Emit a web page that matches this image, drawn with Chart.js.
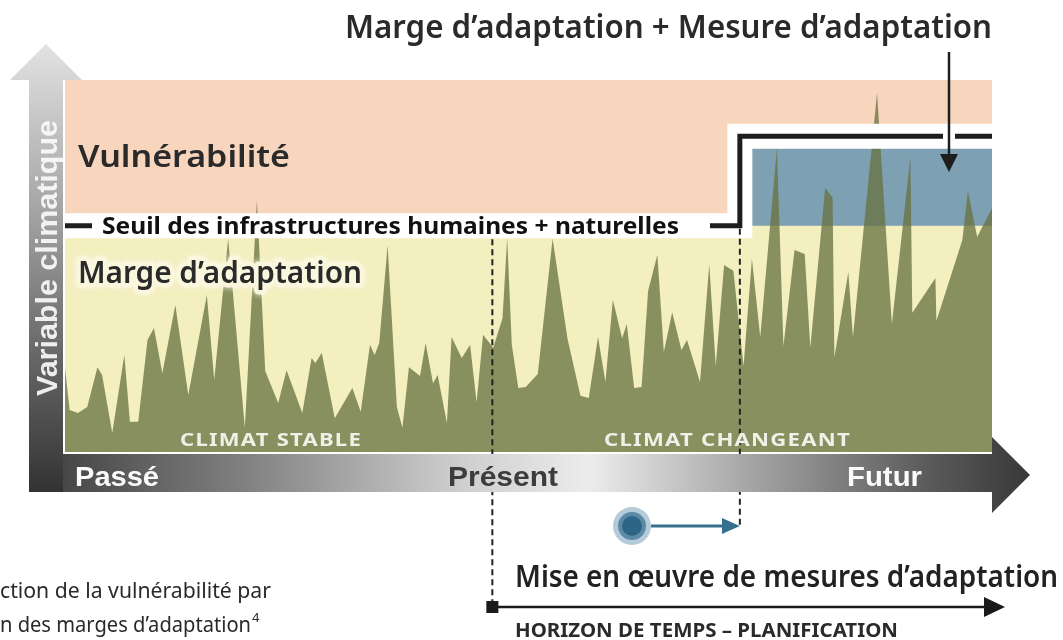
<!DOCTYPE html>
<html>
<head>
<meta charset="utf-8">
<script src="https://cdn.jsdelivr.net/npm/chart.js@4.4.0/dist/chart.umd.min.js"></script>
<style>
  html, body { margin: 0; padding: 0; background: #fff; }
  #wrap { width: 1063px; height: 640px; }
</style>
</head>
<body>
<div id="wrap"><canvas id="chart" width="1063" height="640"></canvas></div>
<script>
// temps : 0 = passé, 100 = futur ; variable climatique : 0 - 100
const tempsX = [0, 0.5, 1.4, 2.4, 3.5, 4.0, 5.1, 6.4, 7.0, 7.9, 8.9, 9.6, 10.5, 11.9, 13.3, 15.3, 16.1, 17.6, 19.4, 20.7,
  21.6, 23.0, 23.9, 25.6, 26.6, 27.0, 27.7, 29.1, 31.0, 31.9, 32.9, 33.4, 33.9, 34.8, 35.8, 36.4, 37.1, 38.3, 38.9, 39.7,
  40.2, 41.2, 41.7, 42.8, 43.7, 44.4, 45.1, 46.2, 47.2, 47.7, 48.2, 48.9, 49.7, 51.0, 52.6, 54.2, 55.6, 56.5, 57.5, 58.3,
  59.1, 60.1, 60.6, 61.4, 62.2, 62.9, 63.9, 64.6, 65.5, 66.5, 67.1, 68.5, 69.5, 70.2, 71.1, 72.1, 73.2, 74.1, 75.0, 76.8,
  77.5, 78.7, 79.8, 80.4, 82.0, 82.8, 83.0, 84.5, 85.0, 87.6, 89.2, 91.2, 91.4, 93.9, 94.0, 96.8, 97.4, 98.4, 100];
const variableY = [22.6, 11.3, 10.5, 12.1, 22.8, 20.7, 5.1, 26.1, 8.1, 8.1, 30.1, 33.3, 21.2, 39.5, 15.3, 42.2, 19.4, 57.3, 6.5, 67.7,
  21.8, 13.2, 22.0, 10.5, 25.3, 23.9, 26.6, 9.1, 17.2, 10.8, 28.8, 26.1, 29.3, 55.6, 12.1, 6.5, 22.8, 20.4, 29.3, 18.5,
  20.7, 7.8, 30.9, 25.3, 28.8, 13.4, 31.5, 28.0, 36.0, 57.5, 28.8, 17.2, 17.5, 21.0, 57.3, 30.6, 15.1, 14.5, 30.9, 18.8,
  40.9, 30.6, 34.4, 17.2, 17.5, 43.3, 53.0, 26.9, 37.6, 27.4, 30.1, 18.8, 50.5, 23.1, 50.3, 48.7, 23.1, 51.9, 30.9, 81.7,
  28.5, 54.3, 53.2, 28.0, 71.0, 68.5, 25.5, 48.4, 30.9, 96.5, 34.4, 79.3, 37.4, 46.8, 35.2, 57.0, 70.2, 57.8, 65.6];

// seuil des infrastructures (avant / après la mesure d'adaptation)
const seuilX = [0, 72.8, 72.8, 100];
const seuilY = [60.8, 60.8, 84.9, 84.9];
// zone de la mesure d'adaptation
const mesureX = [74.1, 100];
const mesureHaut = 81.7;
const mesureBas = 60.8;
const tPresent = 46.1;
const tMesure = 72.8;

function pts(xs, ys) {
  return xs.map((x, i) => ({ x: x, y: Array.isArray(ys) ? ys[i] : ys }));
}

// texte ajusté à une largeur donnée
function texte(ctx, str, x, y, font, color, largeur, spacing) {
  ctx.save();
  ctx.font = font;
  if (spacing) ctx.letterSpacing = spacing;
  ctx.fillStyle = color;
  ctx.textAlign = 'left';
  ctx.textBaseline = 'alphabetic';
  const w = ctx.measureText(str).width;
  ctx.translate(x, y);
  if (largeur) ctx.scale(largeur / w, 1);
  ctx.fillText(str, 0, 0);
  ctx.restore();
}

function fleche(ctx, x1, y1, x2, y2, x3, y3, color) {
  ctx.fillStyle = color;
  ctx.beginPath();
  ctx.moveTo(x1, y1); ctx.lineTo(x2, y2); ctx.lineTo(x3, y3);
  ctx.closePath();
  ctx.fill();
}

const semi = '"Noto Sans", "Open Sans", sans-serif';

const decor = {
  id: 'decor',
  afterDatasetsDraw(chart) {
    const ctx = chart.ctx;
    const xs = chart.scales.x, ys = chart.scales.y;
    const area = chart.chartArea;
    const xP = xs.getPixelForValue(tPresent);
    const xM = xs.getPixelForValue(tMesure);
    const ySeuil = ys.getPixelForValue(seuilY[0]);
    const ySeuil2 = ys.getPixelForValue(seuilY[3]);

    ctx.save();
    // cache du seuil pour le texte
    ctx.fillStyle = '#fff';
    ctx.fillRect(92, ySeuil - 8, 618, 16);
    // trouée pour la flèche du haut
    ctx.fillRect(943, ySeuil2 - 6, 12, 12);

    // lignes pointillées
    ctx.strokeStyle = '#222';
    ctx.lineWidth = 2;
    ctx.setLineDash([6, 4]);
    ctx.beginPath();
    ctx.moveTo(xP, ys.getPixelForValue(57.2)); ctx.lineTo(xP, 607);
    ctx.moveTo(xM, ySeuil + 3); ctx.lineTo(xM, 526);
    ctx.stroke();
    ctx.setLineDash([]);

    // axe horizontal
    const gH = ctx.createLinearGradient(29, 0, 1030, 0);
    gH.addColorStop(0, '#3c3c3c');
    gH.addColorStop(0.22, '#828282');
    gH.addColorStop(0.42, '#cbcbcb');
    gH.addColorStop(0.56, '#ececec');
    gH.addColorStop(0.74, '#9c9c9c');
    gH.addColorStop(0.9, '#5a5a5a');
    gH.addColorStop(1, '#383838');
    ctx.fillStyle = gH;
    ctx.beginPath();
    ctx.moveTo(29, area.bottom + 2);
    ctx.lineTo(area.right, area.bottom + 2);
    ctx.lineTo(area.right, 437);
    ctx.lineTo(1030, 475);
    ctx.lineTo(area.right, 513);
    ctx.lineTo(area.right, 492);
    ctx.lineTo(29, 492);
    ctx.closePath();
    ctx.fill();

    // axe vertical
    const gV = ctx.createLinearGradient(0, 44, 0, 492);
    gV.addColorStop(0, '#e2e2e2');
    gV.addColorStop(0.35, '#a8a8a8');
    gV.addColorStop(0.7, '#666');
    gV.addColorStop(1, '#333');
    ctx.fillStyle = gV;
    ctx.beginPath();
    ctx.moveTo(29, 492);
    ctx.lineTo(29, 80);
    ctx.lineTo(10, 80);
    ctx.lineTo(46, 44);
    ctx.lineTo(82, 80);
    ctx.lineTo(63, 80);
    ctx.lineTo(63, 492);
    ctx.closePath();
    ctx.fill();

    // Variable climatique
    ctx.save();
    ctx.translate(57, 396);
    ctx.rotate(-Math.PI / 2);
    texte(ctx, 'Variable climatique', 0, 0, 'bold 29px "Liberation Sans"', 'rgba(250,250,250,0.92)', 276);
    ctx.restore();

    texte(ctx, 'Passé', 75, 486, 'bold 28px "Liberation Sans"', '#fafafa', 84);
    texte(ctx, 'Présent', 448, 486, 'bold 28px "Liberation Sans"', '#3c3c3c', 110);
    texte(ctx, 'Futur', 847, 486, 'bold 28px "Liberation Sans"', '#fafafa', 75);

    texte(ctx, 'CLIMAT STABLE', 180, 446, 'bold 18px ' + semi, '#f0f0e8', 182, '1px');
    texte(ctx, 'CLIMAT CHANGEANT', 604, 446, 'bold 18px ' + semi, '#f0f0e8', 247, '1px');

    // libellés des zones
    texte(ctx, 'Vulnérabilité', 78, 167, '600 30px ' + semi, '#2a2a2a', 212);
    ctx.save();
    ctx.font = '600 30px ' + semi;
    const wM = ctx.measureText('Marge d’adaptation').width;
    ctx.translate(78, 283);
    ctx.scale(284 / wM, 1);
    ctx.lineJoin = 'round';
    ctx.strokeStyle = 'rgba(250,247,222,0.95)';
    ctx.shadowColor = 'rgba(250,247,222,1)';
    ctx.shadowBlur = 6;
    ctx.lineWidth = 9;
    ctx.strokeText('Marge d’adaptation', 0, 0);
    ctx.shadowBlur = 0;
    ctx.fillStyle = '#2a2a2a';
    ctx.fillText('Marge d’adaptation', 0, 0);
    ctx.restore();

    texte(ctx, 'Seuil des infrastructures humaines + naturelles', 102, 234, 'bold 23px ' + semi, '#111', 577);

    // titre et flèche
    texte(ctx, 'Marge d’adaptation + Mesure d’adaptation', 345, 38, '600 33px ' + semi, '#2a2a2a', 647);
    ctx.strokeStyle = '#1e1e1e';
    ctx.lineWidth = 2.5;
    ctx.beginPath();
    ctx.moveTo(949, 52); ctx.lineTo(949, 158);
    ctx.stroke();
    fleche(ctx, 940, 154, 958, 154, 949, 172, '#1e1e1e');

    // mise en oeuvre
    ctx.fillStyle = 'rgba(120,160,185,0.55)';
    ctx.beginPath(); ctx.arc(632, 526, 19, 0, Math.PI * 2); ctx.fill();
    ctx.fillStyle = '#5d8aa6';
    ctx.beginPath(); ctx.arc(632, 526, 14, 0, Math.PI * 2); ctx.fill();
    ctx.fillStyle = '#2d6586';
    ctx.beginPath(); ctx.arc(632, 526, 10, 0, Math.PI * 2); ctx.fill();
    ctx.strokeStyle = '#36708f';
    ctx.lineWidth = 3;
    ctx.beginPath(); ctx.moveTo(651, 526); ctx.lineTo(724, 526); ctx.stroke();
    fleche(ctx, 722, 518, xM, 526, 722, 534, '#36708f');

    texte(ctx, 'Mise en œuvre de mesures d’adaptation', 515, 587, '600 30px ' + semi, '#222', 543);

    // horizon de temps
    ctx.fillStyle = '#1a1a1a';
    ctx.fillRect(xP - 6, 601, 12, 12);
    ctx.strokeStyle = '#1a1a1a';
    ctx.lineWidth = 2.5;
    ctx.beginPath(); ctx.moveTo(xP, 607); ctx.lineTo(988, 607); ctx.stroke();
    fleche(ctx, 984, 597, 1005, 607, 984, 617, '#1a1a1a');
    texte(ctx, 'HORIZON DE TEMPS – PLANIFICATION', 515, 637, 'bold 20px ' + semi, '#2a2a2a', 383);

    // légende coupée
    texte(ctx, 'ction de la vulnérabilité par', 0, 598, '21px ' + semi, '#2a2a2a', 271);
    texte(ctx, 'n des marges d’adaptation', 0, 632, '21px ' + semi, '#2a2a2a', 251);
    texte(ctx, '4', 252, 622, '13px ' + semi, '#2a2a2a');
    ctx.restore();
  }
};

new Chart('chart', {
  type: 'line',
  data: {
    datasets: [
      { // seuil noir
        data: pts(seuilX, seuilY), borderColor: '#1e1e1e', borderWidth: 5,
        borderJoinStyle: 'miter', borderCapStyle: 'butt', fill: false, order: 1, clip: 0
      },
      { // bande blanche du seuil
        data: pts(seuilX, seuilY), borderColor: '#ffffff', borderWidth: 25,
        borderJoinStyle: 'miter', borderCapStyle: 'butt', fill: false, order: 2, clip: 0
      },
      { // variable climatique
        data: pts(tempsX, variableY), borderWidth: 0, borderColor: 'rgba(0,0,0,0)',
        backgroundColor: 'rgba(104,114,64,0.76)', fill: 'origin', tension: 0, order: 3, clip: 0
      },
      { // mesure d'adaptation
        data: pts(mesureX, mesureHaut), borderWidth: 0, borderColor: 'rgba(0,0,0,0)',
        backgroundColor: '#7ea0b3', fill: { value: mesureBas }, order: 4, clip: 0
      },
      { // marge d'adaptation
        data: pts([0, 100], seuilY[0]), borderWidth: 0, borderColor: 'rgba(0,0,0,0)',
        backgroundColor: '#f3efbf', fill: 'origin', order: 5, clip: 0
      },
      { // vulnérabilité
        data: pts([0, 100], 100), borderWidth: 0, borderColor: 'rgba(0,0,0,0)',
        backgroundColor: '#f8d5bd', fill: 'origin', order: 6, clip: 0
      }
    ]
  },
  options: {
    responsive: false,
    animation: false,
    layout: { padding: { left: 65, right: 71, top: 80, bottom: 188 } },
    elements: { point: { radius: 0, hoverRadius: 0 }, line: { tension: 0 } },
    plugins: { legend: { display: false }, tooltip: { enabled: false } },
    events: [],
    scales: {
      x: { type: 'linear', min: 0, max: 100, display: false },
      y: { min: 0, max: 100, display: false }
    }
  },
  plugins: [decor]
});
</script>
</body>
</html>
